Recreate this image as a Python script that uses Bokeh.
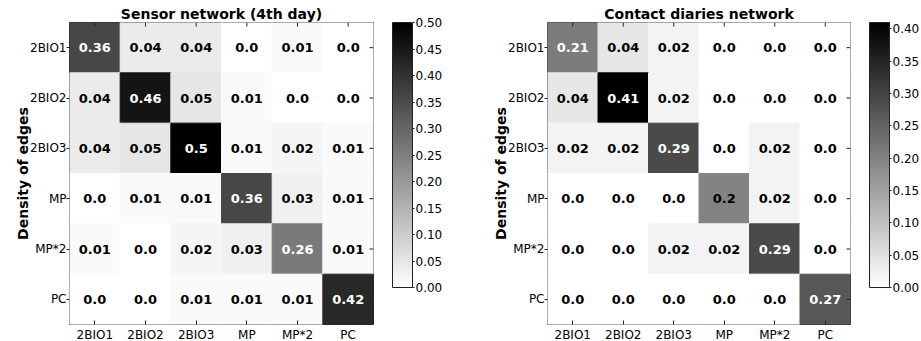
import math
from bokeh.plotting import figure
from bokeh.models import (ColumnDataSource, LinearColorMapper, ColorBar, FixedTicker,
                          PrintfTickFormatter, FactorRange)
from bokeh.layouts import row
from bokeh.core.properties import value
from bokeh.embed import file_html
from bokeh.resources import INLINE

# Groups (rows and columns of each matrix)
groups = ["2BIO1", "2BIO2", "2BIO3", "MP", "MP*2", "PC"]

# Edge density between groups, sensor data (4th day)
sensor_density = [
    [0.36, 0.04, 0.04, 0.0, 0.01, 0.0],
    [0.04, 0.46, 0.05, 0.01, 0.0, 0.0],
    [0.04, 0.05, 0.5, 0.01, 0.02, 0.01],
    [0.0, 0.01, 0.01, 0.36, 0.03, 0.01],
    [0.01, 0.0, 0.02, 0.03, 0.26, 0.01],
    [0.0, 0.0, 0.01, 0.01, 0.01, 0.42],
]

# Edge density between groups, contact diaries
diary_density = [
    [0.21, 0.04, 0.02, 0.0, 0.0, 0.0],
    [0.04, 0.41, 0.02, 0.0, 0.0, 0.0],
    [0.02, 0.02, 0.29, 0.0, 0.02, 0.0],
    [0.0, 0.0, 0.0, 0.2, 0.02, 0.0],
    [0.0, 0.0, 0.02, 0.02, 0.29, 0.0],
    [0.0, 0.0, 0.0, 0.0, 0.0, 0.27],
]

sensor_ticks = [0.0, 0.05, 0.10, 0.15, 0.20, 0.25, 0.30, 0.35, 0.40, 0.45, 0.50]
diary_ticks = [0.0, 0.05, 0.10, 0.15, 0.20, 0.25, 0.30, 0.35, 0.40]

FONT = "DejaVu Sans"
EDGE = "#222222"
FRAME_H = 302
BAR_H = 265
# white -> black linear grey ramp
GREY_R = ["#%02x%02x%02x" % (255 - i, 255 - i, 255 - i) for i in range(256)]


def panel(title, matrix, ticks, left_border, frame_w):
    vmax = max(max(r) for r in matrix)
    xs, ys, vals, labels, colors = [], [], [], [], []
    for i, r in enumerate(matrix):
        for j, v in enumerate(r):
            xs.append(groups[j])
            ys.append(groups[i])
            vals.append(v)
            labels.append(str(v))
            colors.append("white" if v > vmax / 2 else "black")
    src = ColumnDataSource(dict(x=xs, y=ys, v=vals, label=labels, tc=colors))

    mapper = LinearColorMapper(palette=GREY_R, low=0.0, high=vmax)

    p = figure(x_range=FactorRange(factors=groups, range_padding=0),
               y_range=FactorRange(factors=list(reversed(groups)), range_padding=0),
               frame_width=frame_w, frame_height=FRAME_H,
               min_border_left=left_border, min_border_top=22, min_border_bottom=17,
               min_border_right=87,
               toolbar_location=None, output_backend="svg",
               background_fill_color="white", border_fill_color="white",
               outline_line_color=EDGE, outline_line_width=1)

    p.title.text = title
    p.title.align = "center"
    p.title.text_font = FONT
    p.title.text_font_size = "14px"
    p.title.text_font_style = "bold"
    p.title.text_color = "black"
    p.title.standoff = 2
    p.title.offset = 0

    p.rect(x="x", y="y", width=1, height=1, source=src,
           fill_color={"field": "v", "transform": mapper},
           line_color={"field": "v", "transform": mapper})
    p.text(x="x", y="y", text="label", source=src, text_color="tc",
           text_align="center", text_baseline="middle",
           text_font=value(FONT), text_font_size="13px", text_font_style="bold")

    # short inward tick marks along the top and right edges of the matrix
    n = len(groups)
    p.ray(x=groups, y=[n] * n, length=4, length_units="screen",
          angle=-math.pi / 2, line_color=EDGE, line_width=1)
    p.ray(x=[n] * n, y=groups, length=4, length_units="screen",
          angle=math.pi, line_color=EDGE, line_width=1)

    p.grid.visible = False

    for ax in p.xaxis + p.yaxis:
        ax.axis_line_color = None
        ax.major_tick_line_color = EDGE
        ax.minor_tick_line_color = None
        ax.major_label_text_font = FONT
        ax.major_label_text_font_size = "12px"
        ax.major_label_text_color = "black"

    p.xaxis.major_tick_in = 4
    p.xaxis.major_tick_out = 0
    p.xaxis.major_label_standoff = 3
    p.yaxis.major_tick_in = 0
    p.yaxis.major_tick_out = 3
    p.yaxis.major_label_standoff = 0
    p.yaxis.axis_label = "Density of edges"
    p.yaxis.axis_label_text_font = FONT
    p.yaxis.axis_label_text_font_size = "14px"
    p.yaxis.axis_label_text_font_style = "bold"
    p.yaxis.axis_label_text_color = "black"
    p.yaxis.axis_label_standoff = -4

    cbar = ColorBar(color_mapper=mapper, location=(19, FRAME_H - BAR_H),
                    orientation="vertical",
                    width=20, height=BAR_H, padding=0, margin=0,
                    ticker=FixedTicker(ticks=ticks),
                    formatter=PrintfTickFormatter(format="%.2f"),
                    major_label_text_font=FONT, major_label_text_font_size="12px",
                    major_label_text_color="black",
                    major_tick_in=0, major_tick_out=2, major_tick_line_color=EDGE,
                    bar_line_color=EDGE, border_line_color=None,
                    background_fill_color="white", label_standoff=1)
    p.add_layout(cbar, "right")
    return p


left = panel("Sensor network (4th day)", sensor_density, sensor_ticks, 69, 304)
right = panel("Contact diaries network", diary_density, diary_ticks, 87, 303)

layout = row(left, right)
open("out.html", "w").write(file_html(layout, INLINE))
